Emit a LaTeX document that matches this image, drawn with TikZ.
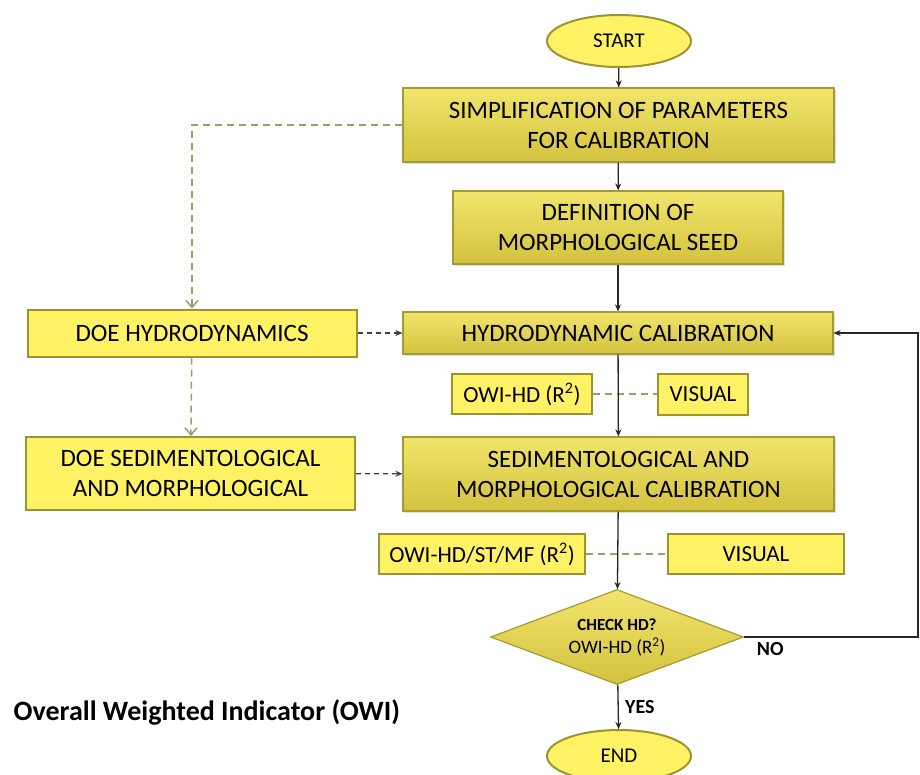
\documentclass[tikz,border=0pt]{standalone}
\usepackage{fontspec}
\setmainfont{Carlito}
\usepackage{tikz}
\usetikzlibrary{arrows.meta,shapes.geometric,shadows}
\definecolor{cal-top}{HTML}{F2E56C}
\definecolor{cal-bot}{HTML}{D3C23E}
\definecolor{cal-edge}{HTML}{A69A32}
\definecolor{doe-fill}{HTML}{FFF264}
\definecolor{doe-edge}{HTML}{9C9433}
\definecolor{olive-dash}{HTML}{A29C62}

\begin{document}
\begin{tikzpicture}[x=1pt, y=-1pt, >={Stealth[length=7pt,width=6pt]}, thick,
  calbox/.style={rectangle, draw=cal-edge, line width=1.2pt, top color=cal-top, bottom color=cal-bot,
    drop shadow={opacity=0.25, shadow xshift=2pt, shadow yshift=-2pt},
    align=center, inner sep=0pt, font=\fontsize{25}{30}\selectfont},
  doebox/.style={rectangle, draw=doe-edge, line width=2pt, fill=doe-fill,
    align=center, inner sep=0pt, font=\fontsize{25}{30}\selectfont},
  owibox/.style={doebox, font=\fontsize{23}{28}\selectfont},
  term/.style={ellipse, draw=doe-edge, line width=2pt, fill=doe-fill, inner sep=0pt,
    minimum width=144, minimum height=52, font=\fontsize{21}{24}\selectfont},
  flow/.style={->, black!85, line width=1.3pt},
  doeflow/.style={->, black!75, dashed, line width=1.3pt, dash pattern=on 5pt off 4pt},
  linkdash/.style={olive-dash, line width=1.5pt, dash pattern=on 7pt off 5pt}]
\clip (0,0) rectangle (920,774);
\fill[white] (0,0) rectangle (920,774);

% main column
\node[term] (start) at (619,41) {START};
\node[calbox, minimum width=431, minimum height=74] (simp) at (618.5,125) {SIMPLIFICATION OF PARAMETERS\\FOR CALIBRATION};
\node[calbox, minimum width=330, minimum height=73] (seed) at (618,227.5) {DEFINITION OF\\MORPHOLOGICAL SEED};
\node[calbox, minimum width=430, minimum height=42] (hydro) at (618,333) {HYDRODYNAMIC CALIBRATION};
\node[calbox, minimum width=431, minimum height=74] (sedi) at (618.5,474) {SEDIMENTOLOGICAL AND\\MORPHOLOGICAL CALIBRATION};
\node[diamond, aspect=2.66, draw=cal-edge, line width=1.2pt, top color=cal-top, bottom color=cal-bot,
  minimum width=253, minimum height=95, inner sep=0pt, align=center, font=\fontsize{19}{23}\selectfont]
  (check) at (617,637) {{\fontsize{17}{20}\selectfont\bfseries CHECK HD?}\\OWI-HD (R\textsuperscript{2})};
\node[term] (end) at (619,756) {END};

% design of experiments
\node[doebox, minimum width=329, minimum height=47] (doehd) at (192,333) {DOE HYDRODYNAMICS};
\node[doebox, minimum width=329, minimum height=73] (doesed) at (190.5,473.5) {DOE SEDIMENTOLOGICAL\\AND MORPHOLOGICAL};

% indicators
\node[owibox, minimum width=140, minimum height=40] (owihd) at (522,394) {OWI-HD (R\textsuperscript{2})};
\node[owibox, minimum width=90, minimum height=41] (vishd) at (703,394) {VISUAL};
\node[owibox, minimum width=206, minimum height=40] (owimf) at (482,554) {OWI-HD/ST/MF (R\textsuperscript{2})};
\node[owibox, minimum width=176, minimum height=40] (vismf) at (756,554) {VISUAL};

\node[anchor=west, font=\fontsize{28}{32}\selectfont\bfseries] (owi) at (10,712) {Overall Weighted Indicator (OWI)};

\coordinate (back) at (918,637);

\draw[linkdash] (owihd) -- (vishd);
\draw[linkdash] (owimf) -- (vismf);

\draw[flow] (start) -- (simp);
\draw[flow] (simp) -- (seed);
\draw[flow] (seed) -- (hydro);
\draw[flow] (hydro) -- (sedi);
\draw[flow] (sedi) -- (check);
\draw[flow] (check) -- node[right, black, font=\fontsize{20}{22}\selectfont\bfseries, xshift=3pt] {YES} (end);
\draw[flow] (check.east) -- node[pos=0.15, below, black, font=\fontsize{20}{22}\selectfont\bfseries, yshift=-1pt] {NO} (back) |- (hydro.east);

\draw[linkdash, ->, >={Straight Barb[length=7pt,width=12pt]}] (simp.west) -| (doehd.north);
\draw[linkdash, ->, >={Straight Barb[length=7pt,width=12pt]}] (doehd) -- (doesed);
\draw[doeflow] (doehd) -- (hydro);
\draw[doeflow] (doesed) -- (sedi);
\end{tikzpicture}
\end{document}
